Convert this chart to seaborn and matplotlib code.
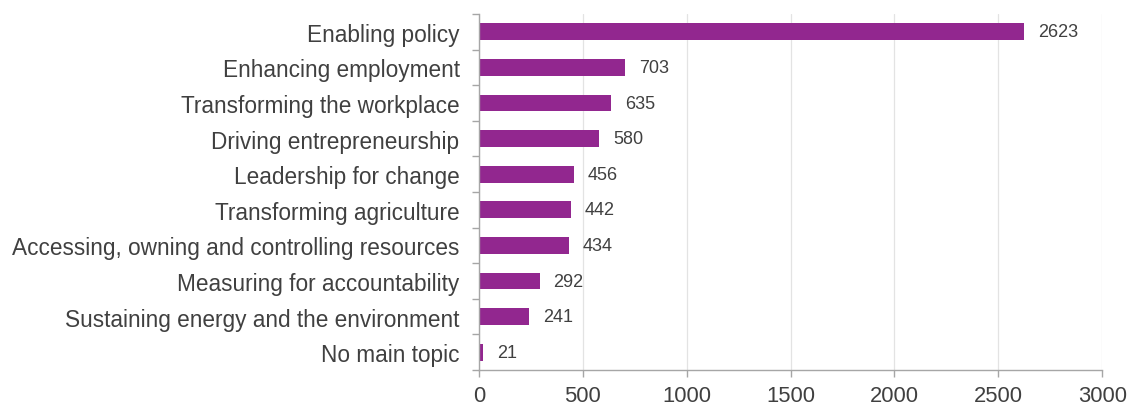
import matplotlib
matplotlib.use("Agg")
import matplotlib.pyplot as plt
import seaborn as sns
import pandas as pd
import numpy as np

topics = [
    "Enabling policy",
    "Enhancing employment",
    "Transforming the workplace",
    "Driving entrepreneurship",
    "Leadership for change",
    "Transforming agriculture",
    "Accessing, owning and controlling resources",
    "Measuring for accountability",
    "Sustaining energy and the environment",
    "No main topic",
]
counts = [2623, 703, 635, 580, 456, 442, 434, 292, 241, 21]
x_ticks = [0, 500, 1000, 1500, 2000, 2500, 3000]

df = pd.DataFrame({"topic": topics, "count": counts})

sns.set_theme(style="white")
plt.rcParams["font.family"] = ["Liberation Sans", "DejaVu Sans"]

fig = plt.figure(figsize=(11.27, 4.06), dpi=100)
ax = fig.add_axes([0.425, 0.086, 0.553, 0.877])

bar_color = "#92278F"
sns.barplot(data=df, x="count", y="topic", orient="h", color=bar_color,
            width=0.47, saturation=1, edgecolor="none", ax=ax)

ax.set_xlim(0, 3000)
ax.set_ylim(len(topics) - 0.5, -0.5)
ax.set_xticks(x_ticks)
ax.set_xticklabels([str(t) for t in x_ticks], fontsize=15.8, color="#404040")
ax.set_yticks(range(len(topics)))
ax.set_yticklabels(topics, fontsize=16.3, color="#404040")
ax.set_xlabel("")
ax.set_ylabel("")

# vertical gridlines
ax.grid(axis="x", color="#e3e3e3", linewidth=0.9)
ax.set_axisbelow(True)

# spines
for s in ["top", "right"]:
    ax.spines[s].set_visible(False)
for s in ["left", "bottom"]:
    ax.spines[s].set_color("#a6a6a6")
    ax.spines[s].set_linewidth(1.0)

# category ticks sit between bars
ax.set_yticks(np.arange(-0.5, len(topics)), minor=True)
ax.tick_params(axis="y", which="major", left=False, length=0, pad=14)
ax.tick_params(axis="y", which="minor", left=True, length=5, color="#a6a6a6",
               width=1, direction="out")
ax.tick_params(axis="x", which="major", bottom=True, length=5, color="#a6a6a6",
               width=1, direction="out", pad=5.5)

for i, v in enumerate(counts):
    ax.annotate(str(v), xy=(v, i), xytext=(10, 0), textcoords="offset points",
                va="center", ha="left", fontsize=13, color="#404040")

fig.savefig("out.png", dpi=100)
